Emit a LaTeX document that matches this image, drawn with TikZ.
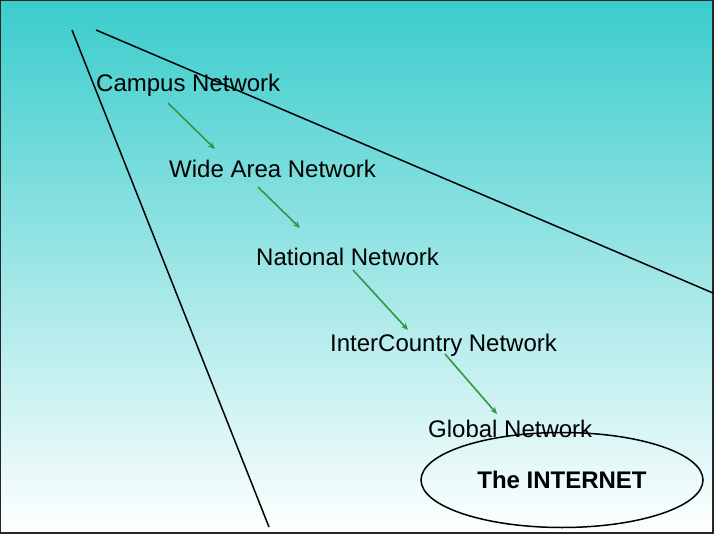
\documentclass[tikz,border=0pt]{standalone}
\usepackage{fontspec}
\setmainfont{Liberation Sans}
\usepackage{xcolor}
\usetikzlibrary{arrows.meta, shapes.geometric}

\definecolor{tuerkis}{RGB}{58,204,204}
\definecolor{pfeilgruen}{RGB}{52,150,70}

\begin{document}
\begin{tikzpicture}[x=1pt, y=-1pt]
    \tikzset{
        stufe/.style={anchor=base west, inner sep=0pt, font=\fontsize{24}{28}\selectfont},
        schritt/.style={pfeilgruen, line width=1.6pt, -{Stealth[length=7pt, width=6pt]}},
        keil/.style={line width=1.5pt},
        netzwolke/.style={draw, ellipse, line width=1.5pt, minimum width=282pt, minimum height=95pt,
            font=\fontsize{24}{28}\selectfont\bfseries}
    }
    \useasboundingbox (0,0) rectangle (720,540);

    % Hintergrund mit Verlauf
    \shade[top color=tuerkis, bottom color=white, draw=black!85, line width=1.5pt]
        (0,0) rectangle (713,533);

    % Keil
    \coordinate (links_oben) at (72,30);
    \coordinate (links_unten) at (269,527);
    \coordinate (rechts_oben) at (96,30);
    \coordinate (rechts_unten) at (713,293);
    \draw[keil] (links_oben) -- (links_unten);
    \draw[keil] (rechts_oben) -- (rechts_unten);

    % Stufen
    \node[stufe] (campus) at (96,92) {Campus Network};
    \node[stufe] (wan) at (169,178) {Wide Area Network};
    \node[stufe] (national) at (256,265) {National Network};
    \node[stufe] (inter) at (330,351) {InterCountry Network};
    \node[stufe] (global) at (428,437) {Global Network};
    \node[netzwolke] (internet) at (562,480) {The INTERNET};

    % Pfeile
    \coordinate (p1a) at (168,103);
    \coordinate (p1b) at (215,149);
    \coordinate (p2a) at (258,187);
    \coordinate (p2b) at (300,228);
    \coordinate (p3a) at (353,270);
    \coordinate (p3b) at (408,330);
    \coordinate (p4a) at (445,354);
    \coordinate (p4b) at (497,414);
    \foreach \a/\b in {p1a/p1b, p2a/p2b, p3a/p3b, p4a/p4b}
        \draw[schritt] (\a) -- (\b);
\end{tikzpicture}
\end{document}
